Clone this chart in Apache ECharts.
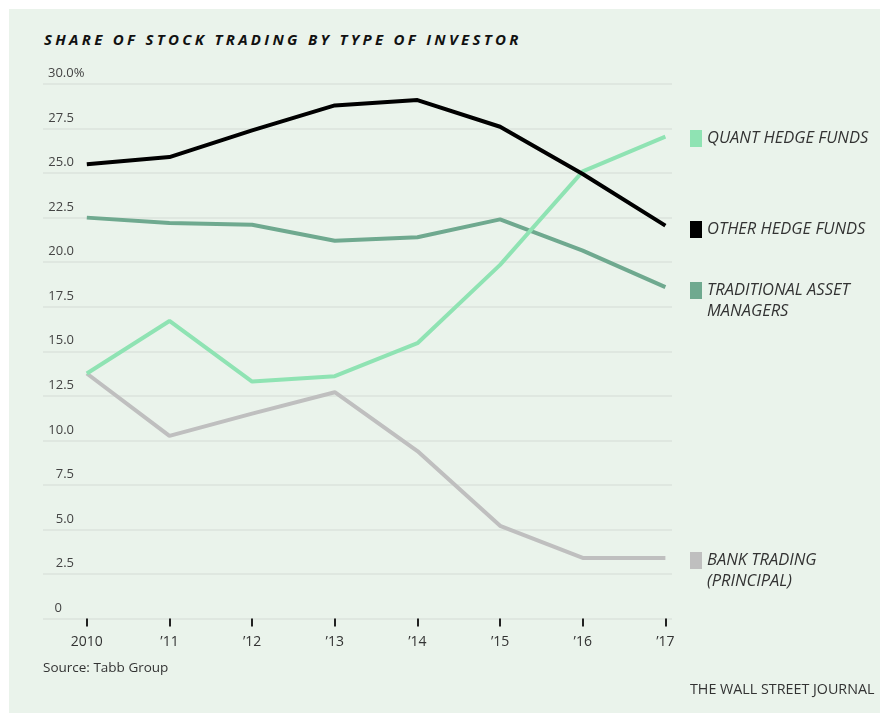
<!DOCTYPE html>
<html>
<head>
<meta charset="utf-8">
<script src="https://cdn.jsdelivr.net/npm/echarts@6/dist/echarts.min.js"></script>
<style>
  html, body { margin: 0; padding: 0; background: #ffffff; }
  .panel { position: absolute; left: 9px; top: 9px; width: 871px; height: 704px; background: #eaf3eb; }
  .chart-title {
    position: absolute; left: 44px; top: 29px;
    font-family: "Open Sans", sans-serif; font-weight: 700; font-style: italic;
    font-size: 15px; letter-spacing: 3.3px; color: #111;
  }
  #main { position: absolute; left: 0; top: 0; width: 880px; height: 715px; }
</style>
</head>
<body>
<div class="panel"></div>
<div class="chart-title">SHARE OF STOCK TRADING BY TYPE OF INVESTOR</div>
<div id="main"></div>
<script>
// x categories
var years = ['2010', '\u201911', '\u201912', '\u201913', '\u201914', '\u201915', '\u201916', '\u201917']
// share of trading, %
var quantHedgeFunds = [13.75, 16.7, 13.3, 13.6, 15.45, 19.85, 25.1, 27.05]
var otherHedgeFunds = [25.5, 25.9, 27.4, 28.8, 29.1, 27.6, 24.95, 22.05]
var traditionalAssetManagers = [22.5, 22.2, 22.1, 21.2, 21.4, 22.4, 20.65, 18.6]
var bankTrading = [13.75, 10.25, 11.5, 12.7, 9.4, 5.2, 3.4, 3.4]

var seriesNames = ['QUANT HEDGE FUNDS', 'OTHER HEDGE FUNDS', 'TRADITIONAL ASSET MANAGERS', 'BANK TRADING (PRINCIPAL)']
// leading empty line keeps the first line level with the swatch
var legendLabels = ['QUANT HEDGE FUNDS', 'OTHER HEDGE FUNDS', '\nTRADITIONAL ASSET\nMANAGERS', '\nBANK TRADING\n(PRINCIPAL)']
var colors = ['#8fe3b3', '#000000', '#6fa98f', '#bfbfbf']

var chart = echarts.init(document.getElementById('main'))

function pairs(arr) {
    return arr.map(function (v, i) { return [i, v] })
}

var legendTops = [128, 219, 259, 529]
var legends = seriesNames.map(function (name, i) {
    return {
        data: [name],
        left: 690,
        top: legendTops[i],
        orient: 'vertical',
        icon: 'rect',
        itemWidth: 12,
        itemHeight: 17,
        selectedMode: false,
        padding: 0,
        formatter: function () { return legendLabels[i] },
        textStyle: {
            fontFamily: 'Open Sans',
            fontStyle: 'italic',
            fontSize: 16.5,
            color: '#333',
            lineHeight: 21
        }
    }
})

var option = {
    animation: false,
    title: [
        {
            text: 'Source: Tabb Group',
            left: 43, top: 661, padding: 0,
            textStyle: { fontFamily: 'Open Sans', fontWeight: 'normal', fontSize: 13.5, color: '#333' }
        },
        {
            text: 'THE WALL STREET JOURNAL',
            left: 690, top: 683, padding: 0,
            textStyle: { fontFamily: 'Open Sans', fontWeight: 'normal', fontSize: 14.3, color: '#333' }
        }
    ],
    legend: legends,
    grid: { left: 43, right: 208, top: 84, bottom: 96.5, containLabel: false },
    xAxis: {
        type: 'value',
        min: -0.53,
        max: 7.08,
        axisLine: { show: false },
        splitLine: { show: false },
        axisTick: {
            show: true, length: 8, customValues: [0, 1, 2, 3, 4, 5, 6, 7],
            lineStyle: { color: '#222', width: 2 }
        },
        axisLabel: {
            customValues: [0, 1, 2, 3, 4, 5, 6, 7],
            formatter: function (v) { return years[Math.round(v)] },
            margin: 17,
            fontFamily: 'Open Sans', fontSize: 14, color: '#333'
        }
    },
    yAxis: {
        type: 'value',
        min: 0,
        max: 30,
        interval: 2.5,
        axisLine: { show: false },
        axisTick: { show: false },
        splitLine: { lineStyle: { color: '#dbe3dc', width: 1.5 } },
        axisLabel: {
            inside: true,
            align: 'right',
            verticalAlign: 'bottom',
            margin: 31,
            padding: [0, 0, 4, 0],
            fontFamily: 'Open Sans', fontSize: 13, color: '#444',
            formatter: function (v) {
                if (v === 0) return '{z|0}'
                if (v === 30) return '{top|30.0%}'
                return v.toFixed(1)
            },
            rich: {
                // box is as wide as "30.0", the % runs past it
                top: { width: 26, align: 'left', fontFamily: 'Open Sans', fontSize: 13, color: '#444' },
                z: { padding: [0, 12, 0, 0], fontFamily: 'Open Sans', fontSize: 13, color: '#444' }
            }
        }
    },
    series: [
        { name: seriesNames[3], data: pairs(bankTrading), color: colors[3] },
        { name: seriesNames[2], data: pairs(traditionalAssetManagers), color: colors[2] },
        { name: seriesNames[0], data: pairs(quantHedgeFunds), color: colors[0] },
        { name: seriesNames[1], data: pairs(otherHedgeFunds), color: colors[1] }
    ].map(function (s) {
        return {
            type: 'line',
            name: s.name,
            data: s.data,
            showSymbol: false,
            silent: true,
            itemStyle: { color: s.color },
            lineStyle: { color: s.color, width: 4 }
        }
    })
}
chart.setOption(option)
</script>
</body>
</html>
